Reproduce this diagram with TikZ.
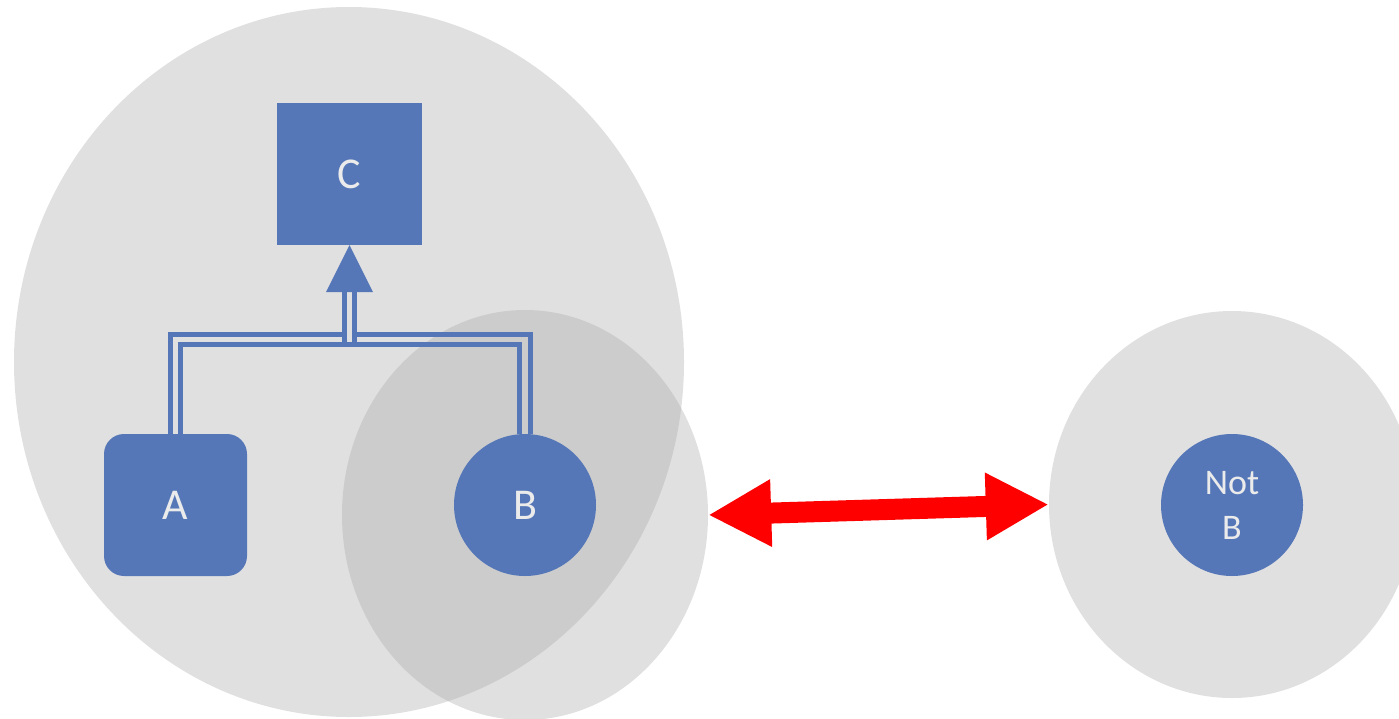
\documentclass[tikz,border=0pt]{standalone}
\usepackage{fontspec}
\setmainfont{Carlito}
\usetikzlibrary{shapes.geometric,arrows.meta,calc}
\definecolor{boxblue}{RGB}{85,119,184}
\definecolor{txt}{RGB}{235,235,235}
\definecolor{bg}{RGB}{224,224,224}
\definecolor{ovl}{RGB}{168,168,168}
\begin{document}
\begin{tikzpicture}[x=1pt,y=-1pt,
  blob/.style={ellipse, inner sep=0pt, draw=none},
  entity/.style={fill=boxblue, text=txt, inner sep=0pt, font=\fontsize{44}{50}\selectfont},
  link/.style={draw=boxblue, line width=5pt, line join=miter},
  bigarrow/.style={draw=red, line width=21pt, {Triangle[length=63pt,width=63pt]}-{Triangle[length=63pt,width=63pt]}},
]
\clip (0,0) rectangle (1399,718);
\node[blob, fill=bg, minimum width=670pt, minimum height=710pt] (E1) at (349,362) {};
\node[blob, fill=ovl, fill opacity=0.355, minimum width=366pt, minimum height=410pt] (E2) at (525,515) {};
\node[blob, fill=bg, minimum width=366pt, minimum height=387pt] (E3) at (1232,504.5) {};

\node[entity, rectangle, minimum width=145pt, minimum height=142pt] (C) at (349.5,174) {C};
\node[entity, rectangle, rounded corners=20pt, minimum width=143pt, minimum height=142pt] (A) at (175.5,505) {A};
\node[entity, circle, minimum size=142pt] (B) at (525,505) {B};
\node[entity, circle, minimum size=142pt, align=center, font=\fontsize{36}{45}\selectfont] (NB) at (1232,505) {Not\\B};

\coordinate (J) at (349.5,339.5);
\coordinate (T) at ($(C.south)+(0,47)$);

\draw[link] ([xshift=-5.5pt]A.north) |- ([shift={(-5,-5)}]J) -- ([shift={(-5,0)}]T);
\draw[link] ([xshift=5.5pt]B.north) |- ([shift={(5,-5)}]J) -- ([shift={(5,0)}]T);
\draw[link] ([xshift=5pt]A.north) |- ([shift={(0,5)}]J) -| ([xshift=-5.5pt]B.north);
\draw[link] ([shift={(-5,0)}]T) -- ([shift={(-5,7.5)}]J);
\draw[link] ([shift={(5,0)}]T) -- ([shift={(5,7.5)}]J);
\fill[boxblue] (C.south) -- ([shift={(-23.5,0)}]T) -- ([shift={(23.5,0)}]T) -- cycle;

\draw[bigarrow] (E2.east) -- (E3.west);
\end{tikzpicture}
\end{document}
